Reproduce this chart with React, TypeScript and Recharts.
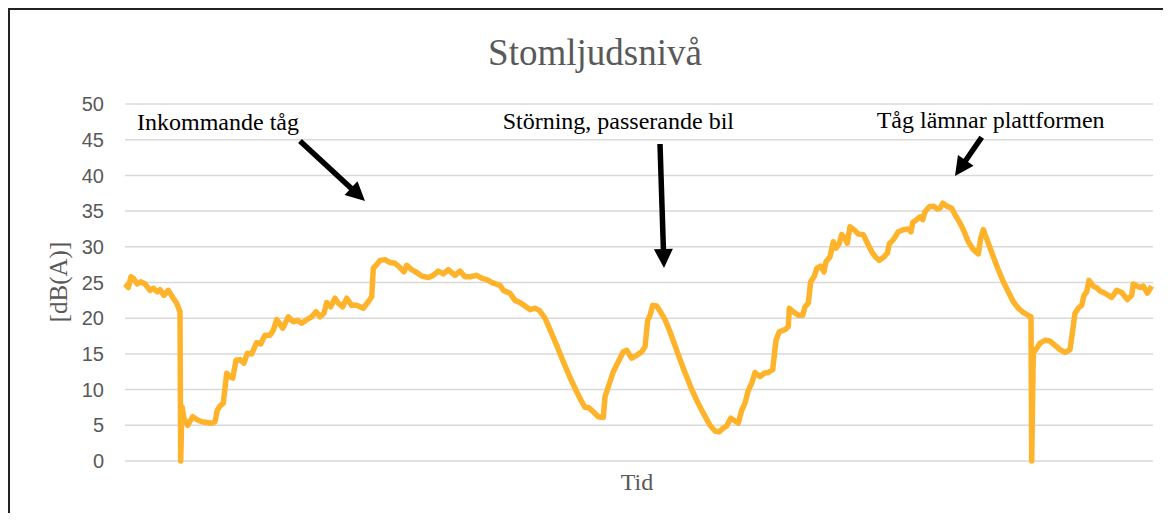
import React from "react";
import { LineChart, Line, XAxis, YAxis, CartesianGrid } from "recharts";

// Time samples (arbitrary time units along the measurement)
const tid = [
  0, 3.3, 6, 8.3, 12.3, 15.7, 20, 25, 28.3, 32.3,
  35, 39, 43.3, 48.3, 51.7, 55, 55.7, 57, 59, 62.7,
  67.7, 71.7, 76.7, 81.7, 86.7, 90, 92.3, 95, 98.3, 101.7,
  105, 107.7, 111, 115, 119, 122.3, 126.7, 131.7, 135.7, 140,
  145, 148.3, 151.7, 157.7, 163.3, 168.3, 172.3, 176.7, 181.7, 186.7,
  191, 195, 199, 201.7, 205.7, 210, 213.3, 217.7, 221.7, 226.7,
  231.7, 238.3, 243.3, 246.7, 248.3, 251.7, 255, 260, 265, 270,
  275, 279, 281.7, 286.7, 291.7, 296.7, 303.3, 308.3, 313.3, 318.3,
  323.3, 330, 335, 340, 345, 351.7, 356.7, 361.7, 368.3, 375,
  378.3, 385, 390, 395, 400, 405, 410, 414.3, 420, 425,
  431.7, 438.3, 445, 451.7, 456.7, 460, 463.3, 468.3, 473.3, 478.3,
  480, 483.3, 488.3, 493.3, 498.3, 501.7, 506.7, 511.7, 516.7, 520,
  522.7, 525, 527.7, 531.7, 535, 540, 545, 551.7, 558.3, 565,
  571.7, 578.3, 585, 590, 594.3, 598.3, 601.7, 605.7, 610, 613.3,
  616.7, 620, 623.3, 626.7, 630, 635, 639, 643.3, 647.7, 651,
  654.3, 660, 663.3, 664.3, 668.3, 673.3, 677.7, 680, 683.3, 685.7,
  689, 692, 695.7, 699, 701, 705, 708.3, 711, 714.3, 716.7,
  720, 722.3, 725, 729, 733.3, 738.3, 741.7, 746.7, 751, 754.3,
  758.3, 762.3, 764.3, 768.3, 773.3, 778.3, 783.3, 786, 787.7, 791.7,
  795, 797.7, 800, 804.3, 808.3, 812.3, 815, 817.7, 821.7, 826.7,
  830, 834.3, 838.3, 843.3, 848.3, 853.3, 855.7, 858.3, 863.3, 868.3,
  873.3, 878.3, 883.3, 888.3, 893.3, 898.3, 904.3, 906, 906.7, 908.3,
  911.7, 915, 920, 925, 930, 935, 940, 945, 947.7, 950,
  953.3, 956.7, 959, 961.7, 964, 968.3, 972.3, 975, 980, 986.7,
  991.7, 996.7, 1002.3, 1006.7, 1008.3, 1011.7, 1015, 1018.3, 1022.3, 1026.7,
];

// Structure-borne sound level, dB(A)
const niva = [
  24.8, 24.3, 25.8, 25.6, 24.8, 25.1, 24.8, 23.9, 24.2, 23.7,
  24.0, 23.2, 23.9, 22.8, 22.1, 20.9, 0.0, 7.6, 6.0, 5.0,
  6.2, 5.8, 5.5, 5.4, 5.3, 5.5, 7.1, 7.7, 8.1, 12.3,
  11.8, 11.6, 14.1, 14.2, 13.7, 15.1, 15.0, 16.6, 16.4, 17.6,
  17.6, 18.3, 19.8, 18.6, 20.2, 19.5, 19.7, 19.3, 19.8, 20.2,
  20.9, 20.2, 20.7, 22.2, 21.6, 22.8, 22.1, 21.6, 22.8, 21.8,
  21.8, 21.4, 22.3, 23.0, 27.0, 27.5, 28.1, 28.2, 27.8, 27.7,
  27.1, 26.5, 27.4, 26.8, 26.4, 25.9, 25.7, 26.0, 26.6, 26.2,
  26.8, 26.0, 26.6, 25.8, 25.8, 26.0, 25.6, 25.4, 24.9, 24.6,
  23.9, 23.5, 22.5, 22.2, 21.7, 21.2, 21.4, 21.1, 20.0, 18.4,
  16.2, 13.9, 11.7, 9.7, 8.3, 7.5, 7.5, 6.9, 6.2, 6.1,
  9.0, 10.4, 12.5, 13.9, 15.3, 15.5, 14.4, 14.8, 15.3, 16.0,
  19.7, 20.4, 21.8, 21.7, 21.0, 19.8, 18.1, 15.5, 13.0, 10.6,
  8.5, 6.7, 5.0, 4.2, 4.1, 4.6, 4.9, 6.0, 5.6, 5.3,
  7.1, 8.1, 9.9, 10.9, 12.4, 11.8, 12.3, 12.4, 12.8, 16.9,
  18.1, 18.4, 18.8, 21.4, 20.9, 20.4, 20.4, 21.6, 22.1, 25.1,
  25.8, 27.0, 27.3, 26.5, 27.9, 28.6, 30.7, 29.8, 30.5, 31.7,
  31.2, 30.5, 32.8, 32.4, 31.8, 31.7, 30.7, 29.3, 28.5, 28.1,
  28.5, 29.1, 30.4, 31.0, 32.1, 32.4, 32.5, 32.1, 33.4, 33.8,
  34.2, 33.8, 34.9, 35.6, 35.7, 35.3, 35.4, 36.1, 35.7, 35.4,
  34.5, 33.5, 32.4, 30.7, 29.6, 29.0, 31.2, 32.4, 30.5, 28.6,
  26.8, 25.1, 23.7, 22.3, 21.4, 20.8, 20.3, 20.2, 0.0, 15.1,
  15.8, 16.5, 16.9, 16.8, 16.2, 15.6, 15.2, 15.6, 18.3, 20.7,
  21.4, 21.8, 23.2, 23.7, 25.3, 24.5, 24.2, 23.8, 23.5, 22.9,
  23.9, 23.6, 22.6, 23.2, 24.8, 24.5, 24.3, 24.5, 23.5, 24.5,
];

const yTicks = [0, 5, 10, 15, 20, 25, 30, 35, 40, 45, 50];

const titel = "Stomljudsnivå";
const yEtikett = "[dB(A)]";
const xEtikett = "Tid";
const anteckningar = ["Inkommande tåg", "Störning, passerande bil", "Tåg lämnar plattformen"];

const data = tid.map((t, i) => ({ t, niva: niva[i] }));

const W = 1161;
const H = 503;
const SERIF = "'Liberation Serif', 'Times New Roman', serif";
const SANS = "'Liberation Sans', Arial, sans-serif";
const GRAY = "#595959";

function Arrow({ x1, y1, x2, y2 }: { x1: number; y1: number; x2: number; y2: number }) {
  const dx = x2 - x1;
  const dy = y2 - y1;
  const len = Math.sqrt(dx * dx + dy * dy);
  const ux = dx / len;
  const uy = dy / len;
  const hl = 19;
  const hw = 9.5;
  const bx = x2 - ux * hl;
  const by = y2 - uy * hl;
  const px = -uy;
  const py = ux;
  return (
    <g>
      <line x1={x1} y1={y1} x2={bx + ux * 2} y2={by + uy * 2} stroke="#000" strokeWidth={5.5} />
      <polygon
        points={`${x2},${y2} ${bx + px * hw},${by + py * hw} ${bx - px * hw},${by - py * hw}`}
        fill="#000"
      />
    </g>
  );
}

export default function App() {
  return (
    <div
      style={{
        position: "relative",
        width: W,
        height: H,
        borderLeft: "2px solid #222",
        borderTop: "2px solid #222",
        background: "#fff",
      }}
    >
      <style>{`html,body{overflow:hidden}`}</style>
      <LineChart width={W} height={H} data={data} margin={{ top: 94, right: 18, bottom: 52, left: 55 }}>
        <CartesianGrid vertical={false} stroke="#d9d9d9" strokeWidth={1.5} />
        <XAxis dataKey="t" type="number" domain={[0, 1028]} hide />
        <YAxis
          width={60}
          domain={[0, 50]}
          ticks={yTicks}
          axisLine={false}
          tickLine={false}
          tickSize={0}
          tickMargin={21}
          interval={0}
          tick={{ fill: GRAY, fontSize: 20, fontFamily: SANS }}
        />
        <Line
          type="linear"
          dataKey="niva"
          stroke="#FFB32B"
          strokeWidth={5.5}
          dot={false}
          activeDot={false}
          strokeLinejoin="round"
          isAnimationActive={false}
        />
      </LineChart>
      <svg
        width={W}
        height={H}
        style={{ position: "absolute", left: 0, top: 0, pointerEvents: "none" }}
      >
        <text x={585} y={55} textAnchor="middle" fontFamily={SERIF} fontSize={37} fill={GRAY}>
          {titel}
        </text>
        <text
          x={48}
          y={272}
          textAnchor="middle"
          dominantBaseline="central"
          transform="rotate(-90, 48, 272)"
          fontFamily={SERIF}
          fontSize={25}
          fill={GRAY}
        >
          {yEtikett}
        </text>
        <text x={627} y={480} textAnchor="middle" fontFamily={SERIF} fontSize={24} fill={GRAY}>
          {xEtikett}
        </text>
        <text x={127} y={120} fontFamily={SERIF} fontSize={24} fill="#000">
          {anteckningar[0]}
        </text>
        <text x={492.7} y={119.3} fontFamily={SERIF} fontSize={24} fill="#000">
          {anteckningar[1]}
        </text>
        <text x={866.7} y={118.3} fontFamily={SERIF} fontSize={24} fill="#000">
          {anteckningar[2]}
        </text>
        <Arrow x1={290} y1={131} x2={355} y2={191} />
        <Arrow x1={650} y1={134} x2={654} y2={258} />
        <Arrow x1={971.7} y1={127.3} x2={945} y2={166} />
      </svg>
    </div>
  );
}
